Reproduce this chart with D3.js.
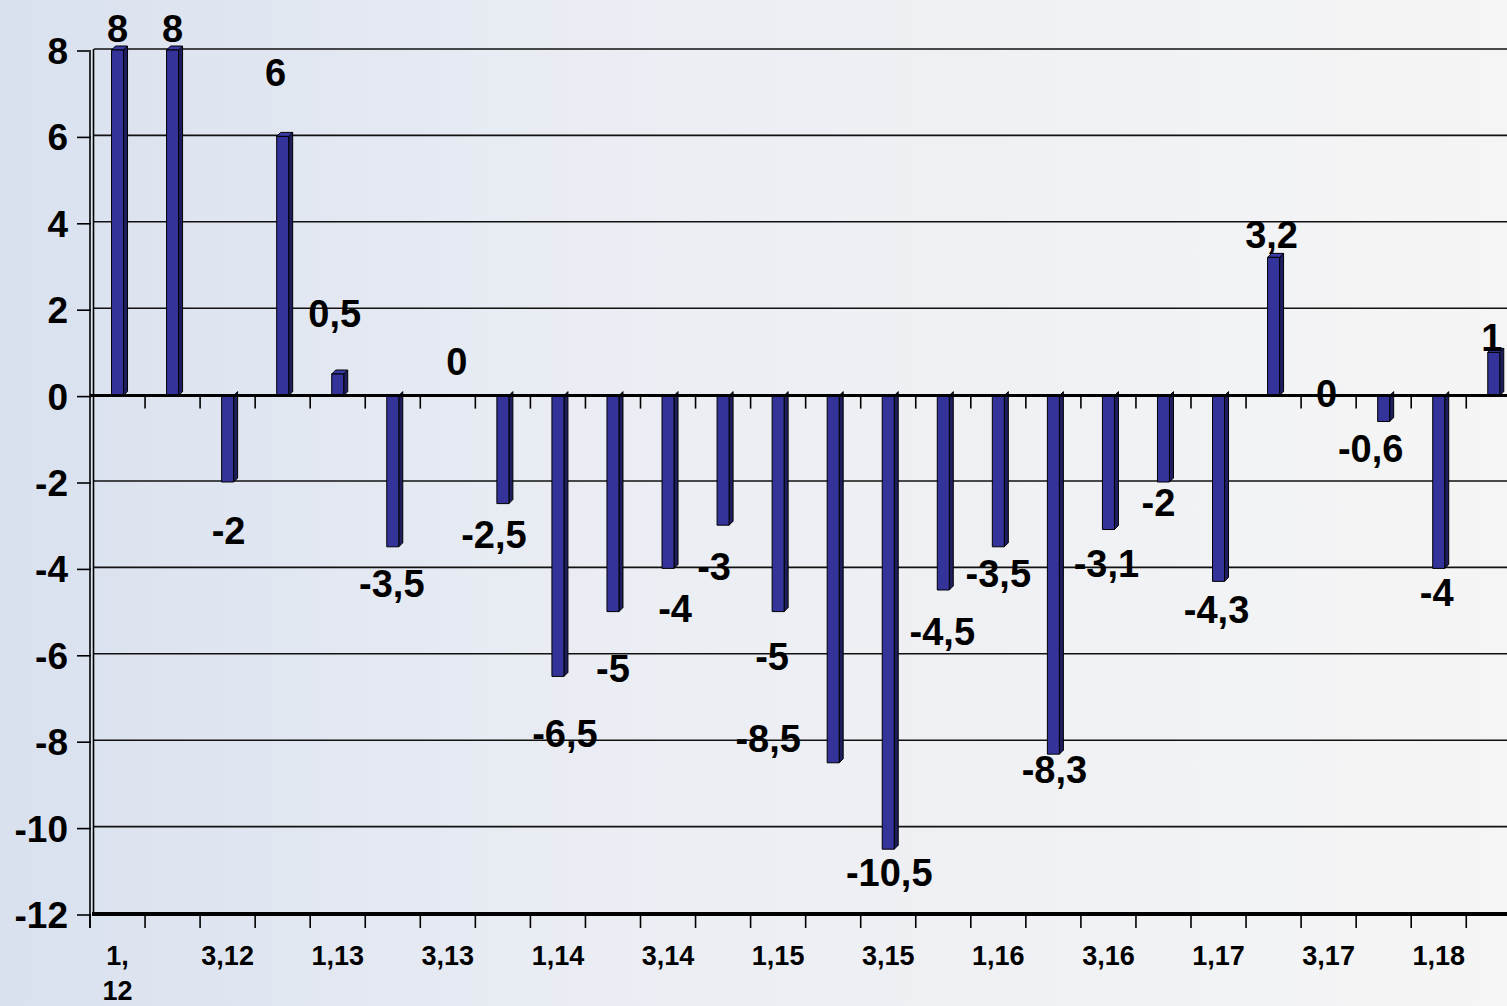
<!DOCTYPE html>
<html><head><meta charset="utf-8">
<script src="https://cdn.jsdelivr.net/npm/d3@7"></script>
<style>html,body{margin:0;padding:0;overflow:hidden;background:#f4f4f4}svg{display:block}</style>
</head><body>
<script>
const categories = ["1,12","2,12","3,12","4,12","1,13","2,13","3,13","4,13","1,14","2,14","3,14","4,14",
  "1,15","2,15","3,15","4,15","1,16","2,16","3,16","4,16","1,17","2,17","3,17","4,17","1,18","2,18"];
const values = [8, 8, -2, 6, 0.5, -3.5, 0, -2.5, -6.5, -5, -4, -3, -5, -8.5, -10.5, -4.5, -3.5, -8.3, -3.1, -2, -4.3, 3.2, 0, -0.6, -4, 1];
const valueLabels = ["8","8","-2","6","0,5","-3,5","0","-2,5","-6,5","-5","-4","-3","-5","-8,5","-10,5","-4,5","-3,5","-8,3","-3,1","-2","-4,3","3,2","0","-0,6","-4","1"];
const xTickCategories = ["1,12","3,12","1,13","3,13","1,14","3,14","1,15","3,15","1,16","3,16","1,17","3,17","1,18"];
const xTickLabels = ["1, 12","3,12","1,13","3,13","1,14","3,14","1,15","3,15","1,16","3,16","1,17","3,17","1,18"];
const yTicks = [8, 6, 4, 2, 0, -2, -4, -6, -8, -10, -12];
// manual label placement nudges (px) relative to bar end
const labelNudge = [[0,-8],[0,-8],[1,62],[-7,-50],[-3,-47],[-1,50],[9,-21],[-9,44],[7,71],[0,70],[7,54],[-9,55],
  [-6,58],[-65,-11],[1,37],[-1,55],[0,40],[1,29],[-2,47],[-5,34],[-2,42],[-2,-9],[-2,11],[-13,40],[-2,38],[-2,-1]];

const W = 1507, H = 1006;
const svg = d3.select("body").append("svg").attr("width", W).attr("height", H);
const defs = svg.append("defs");
const grad = defs.append("linearGradient").attr("id","bg").attr("x1","0").attr("x2","1").attr("y1","0").attr("y2","0");
grad.append("stop").attr("offset","0").attr("stop-color","#d9e1ef");
grad.append("stop").attr("offset","0.4").attr("stop-color","#eaedf3");
grad.append("stop").attr("offset","1").attr("stop-color","#f5f5f5");
svg.append("rect").attr("width",W).attr("height",H).attr("fill","url(#bg)");

const font = "'Liberation Sans', Arial, sans-serif";
const depth = 4;
const x = d3.scaleBand().domain(categories).range([90, 90 + 26 * 55.05]).padding(0);
const y = d3.scaleLinear().domain([-12, 8]).range([914, 50]);
const bw = 12;

// gridlines on back wall
svg.append("g").selectAll("line").data(yTicks.filter(v => v !== 0 && v !== -12)).join("line")
  .attr("x1", 90 + depth).attr("x2", W + 20)
  .attr("y1", d => y(d) - 1).attr("y2", d => y(d) - 1)
  .attr("stroke", "#111").attr("stroke-width", 1.6);

// left wall
svg.append("line").attr("x1",90).attr("x2",90).attr("y1",y(8)+2).attr("y2",y(-12)+14).attr("stroke","#000").attr("stroke-width",1.6);
svg.append("line").attr("x1",93.5).attr("x2",93.5).attr("y1",y(8)-1).attr("y2",y(-12)).attr("stroke","#000").attr("stroke-width",1.6);

// y axis ticks and labels
const yAxis = svg.append("g");
yAxis.selectAll("line").data(yTicks).join("line")
  .attr("x1", 77).attr("x2", 91).attr("y1", d => y(d) + 1).attr("y2", d => y(d) + 1)
  .attr("stroke", "#000").attr("stroke-width", 1.6);
yAxis.selectAll("text").data(yTicks).join("text")
  .attr("x", 68).attr("y", d => y(d) + 14).attr("text-anchor", "end")
  .attr("font-family", font).attr("font-weight", "bold").attr("font-size", 37)
  .attr("fill", "#000").text(d => d);

// bottom floor axis
svg.append("line").attr("x1", 92).attr("x2", W + 20).attr("y1", y(-12)).attr("y2", y(-12))
  .attr("stroke", "#000").attr("stroke-width", 4);

// bars
const bars = svg.append("g");
categories.forEach((c, i) => {
  const v = values[i];
  if (v === 0) return;
  const cx = x(c) + x.bandwidth() / 2;
  const x0 = cx - bw / 2, x1 = cx + bw / 2;
  const yv = y(v), y0 = y(0);
  const top = Math.min(yv, y0), bot = Math.max(yv, y0);
  const g = bars.append("g").attr("stroke", "#000").attr("stroke-width", 1).attr("stroke-linejoin", "round");
  g.append("path").attr("d", `M${x1},${top}L${x1+depth},${top-depth}L${x1+depth},${bot-depth}L${x1},${bot}Z`).attr("fill", "#1e1e5e");
  if (v > 0) g.append("path").attr("d", `M${x0},${top}L${x0+depth},${top-depth}L${x1+depth},${top-depth}L${x1},${top}Z`).attr("fill", "#3b3ba6");
  g.append("rect").attr("x", x0).attr("y", top).attr("width", bw).attr("height", bot - top).attr("fill", "#333399");
});

// zero line
svg.append("line").attr("x1", 90).attr("x2", W + 20).attr("y1", y(0)).attr("y2", y(0))
  .attr("stroke", "#000").attr("stroke-width", 3);

// x ticks at category boundaries
const bounds = categories.map(c => x(c)).concat([x(categories[categories.length-1]) + x.bandwidth()]);
svg.append("g").selectAll("line").data(bounds.slice(1)).join("line")
  .attr("x1", d => d).attr("x2", d => d).attr("y1", y(0) + 1).attr("y2", y(0) + 13)
  .attr("stroke", "#000").attr("stroke-width", 1.6);
svg.append("g").selectAll("line").data(bounds).join("line")
  .attr("x1", d => d).attr("x2", d => d).attr("y1", y(-12)).attr("y2", y(-12) + 14)
  .attr("stroke", "#000").attr("stroke-width", 1.6);

// x tick labels
const xl = svg.append("g").attr("font-family", font).attr("font-weight", "bold").attr("font-size", 27).attr("fill", "#000").attr("text-anchor", "middle");
xTickCategories.forEach((c, i) => {
  const cx = x(c) + x.bandwidth() / 2;
  const lab = xTickLabels[i];
  const t = xl.append("text").attr("x", cx).attr("y", 965);
  if (lab.indexOf(" ") >= 0) {
    const parts = lab.split(" ");
    t.append("tspan").attr("x", cx).attr("y", 965).text(parts[0]);
    t.append("tspan").attr("x", cx).attr("y", 1000).text(parts[1]);
  } else t.text(lab);
});

// value labels
const vl = svg.append("g").attr("font-family", font).attr("font-weight", "bold").attr("font-size", 38).attr("fill", "#000").attr("text-anchor", "middle");
categories.forEach((c, i) => {
  const cx = x(c) + x.bandwidth() / 2;
  vl.append("text").attr("x", cx + labelNudge[i][0]).attr("y", y(values[i]) + labelNudge[i][1]).text(valueLabels[i]);
});
</script>
</body></html>
